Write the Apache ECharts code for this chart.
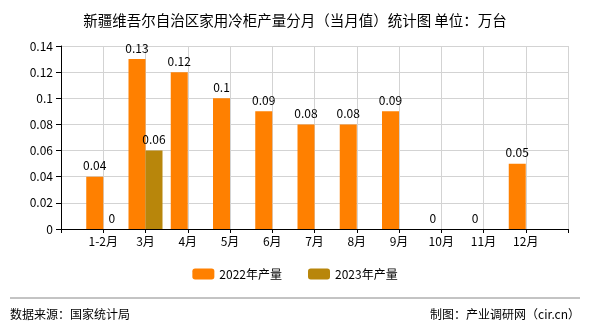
<!DOCTYPE html>
<html><head><meta charset="utf-8">
<script src="https://cdn.jsdelivr.net/npm/echarts@6/dist/echarts.min.js"></script>
<style>html,body{margin:0;padding:0;background:#fff}#c{width:590px;height:330px}</style>
</head><body><div id="c"></div>
<script>
const categories = ['', '1-2月', '3月', '4月', '5月', '6月', '7月', '8月', '9月', '10月', '11月', '12月', ''];
const series2022 = [null, 0.04, 0.13, 0.12, 0.1, 0.09, 0.08, 0.08, 0.09, 0, 0, 0.05, null];
const series2023 = [null, 0, 0.06, null, null, null, null, null, null, null, null, null, null];
const seriesNames = ['2022年产量', '2023年产量'];
const yTicks = {min: 0, max: 0.14, interval: 0.02};

const FONT = '"Noto Sans CJK SC", sans-serif';
const chart = echarts.init(document.getElementById('c'));
const lbl = {show: true, position: 'top', color: '#000', fontSize: 12, fontFamily: FONT, distance: 5,
  formatter: p => (p.value === null || p.value === undefined) ? '' : String(p.value)};
chart.setOption({
  animation: false,
  title: {text: '新疆维吾尔自治区家用冷柜产量分月（当月值）统计图 单位：万台', left: 'center', top: 8,
    textStyle: {fontSize: 14.5, fontWeight: 'normal', color: '#000', fontFamily: FONT}},
  grid: {left: 61, right: 22, top: 46, bottom: 101, containLabel: false},
  legend: {bottom: 45, left: 'center', itemWidth: 22, itemHeight: 11, itemGap: 26,
    textStyle: {fontSize: 12, color: '#000', fontFamily: FONT}, data: seriesNames},
  xAxis: {type: 'category', data: categories, boundaryGap: false,
    axisLine: {lineStyle: {color: '#000'}},
    axisTick: {show: true, length: 4, lineStyle: {color: '#000'}, alignWithLabel: true},
    axisLabel: {color: '#000', fontSize: 12, fontFamily: FONT, margin: 6, interval: 0},
    splitLine: {show: true, lineStyle: {color: '#d3d3d3'}}},
  yAxis: {type: 'value', min: yTicks.min, max: yTicks.max, interval: yTicks.interval,
    axisLine: {show: true, lineStyle: {color: '#000'}},
    axisTick: {show: true, length: 5, lineStyle: {color: '#000'}},
    axisLabel: {color: '#000', fontSize: 12, fontFamily: FONT, margin: 8},
    splitLine: {show: true, lineStyle: {color: '#d3d3d3'}}},
  series: [
    {name: seriesNames[0], type: 'bar', data: series2022, barWidth: 17, barGap: '0%',
      itemStyle: {color: '#ff8000'}, label: lbl},
    {name: seriesNames[1], type: 'bar', data: series2023, barWidth: 17, barGap: '0%',
      itemStyle: {color: '#b8860b'}, label: lbl}
  ],
  graphic: [
    {type: 'line', shape: {x1: 10, y1: 298, x2: 580, y2: 298}, style: {stroke: '#888', lineWidth: 1}},
    {type: 'text', left: 10, top: 308, style: {text: '数据来源：国家统计局', fontSize: 12, fill: '#000', fontFamily: FONT}},
    {type: 'text', right: 10, top: 308, style: {text: '制图：产业调研网（cir.cn）', fontSize: 12, fill: '#000', fontFamily: FONT}}
  ]
});
</script></body></html>
